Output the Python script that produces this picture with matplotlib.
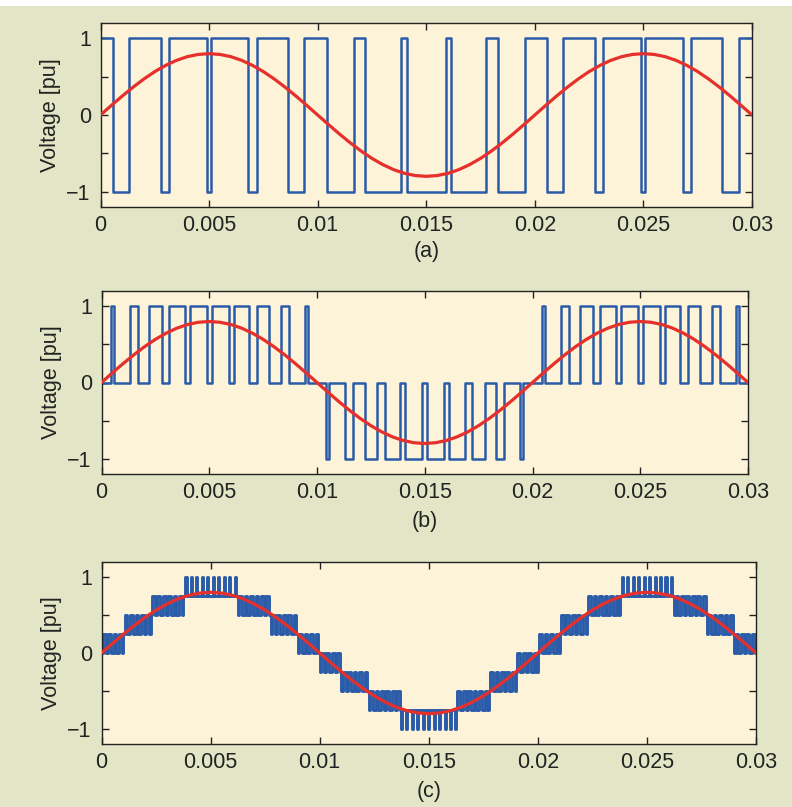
import numpy as np
import matplotlib.pyplot as plt

plt.rcParams['font.family'] = ['Liberation Sans', 'DejaVu Sans']

# time in ms
ref_t = [0.5 * i for i in range(61)]
ref_v = [0.0, 0.125, 0.247, 0.363, 0.470, 0.566, 0.647, 0.713, 0.761, 0.790, 0.800,
         0.790, 0.761, 0.713, 0.647, 0.566, 0.470, 0.363, 0.247, 0.125, 0.0,
         -0.125, -0.247, -0.363, -0.470, -0.566, -0.647, -0.713, -0.761, -0.790, -0.800,
         -0.790, -0.761, -0.713, -0.647, -0.566, -0.470, -0.363, -0.247, -0.125, 0.0,
         0.125, 0.247, 0.363, 0.470, 0.566, 0.647, 0.713, 0.761, 0.790, 0.800,
         0.790, 0.761, 0.713, 0.647, 0.566, 0.470, 0.363, 0.247, 0.125, 0.0]

# (a) bipolar: switching instants, starts at +1
a_edges = [0.57, 1.33, 2.79, 3.16, 4.89, 5.09, 6.80, 7.19, 8.63, 9.37,
           10.42, 11.68, 12.20, 13.84, 14.10, 15.91, 16.13, 17.76, 18.32, 19.57,
           20.58, 21.32, 22.79, 23.16, 24.88, 25.08, 26.82, 27.18, 28.64, 29.42]

# (b) unipolar: pulse width in each 1 ms slot and its level
b_width = [0.13, 0.36, 0.57, 0.71, 0.79, 0.79, 0.71, 0.57, 0.36, 0.13,
           0.13, 0.36, 0.57, 0.71, 0.79, 0.79, 0.71, 0.57, 0.36, 0.13,
           0.13, 0.36, 0.57, 0.71, 0.79, 0.79, 0.71, 0.57, 0.36, 0.13]
b_level = [1, 1, 1, 1, 1, 1, 1, 1, 1, 1,
           -1, -1, -1, -1, -1, -1, -1, -1, -1, -1,
           1, 1, 1, 1, 1, 1, 1, 1, 1, 1]

# (c) multilevel: bands where the output toggles between two levels
c_start = [0.0, 1.0, 2.15, 3.85, 6.15, 7.85, 9.0,
           10.0, 11.0, 12.15, 13.85, 16.15, 17.85, 19.0,
           20.0, 21.0, 22.15, 23.85, 26.15, 27.85, 29.0]
c_low = [0, 0.25, 0.5, 0.75, 0.5, 0.25, 0,
         -0.25, -0.5, -0.75, -1.0, -0.75, -0.5, -0.25,
         0, 0.25, 0.5, 0.75, 0.5, 0.25, 0]
c_duty = [0.5, 0.5, 0.5, 0.2, 0.5, 0.5, 0.5,
          0.5, 0.5, 0.5, 0.8, 0.5, 0.5, 0.5,
          0.5, 0.5, 0.5, 0.2, 0.5, 0.5, 0.5]
c_slot = 0.25

xt = [0, 0.005, 0.01, 0.015, 0.02, 0.025, 0.03]
xt_lab = ['0', '0.005', '0.01', '0.015', '0.02', '0.025', '0.03']
yt = [-1, -0.5, 0, 0.5, 1]
yt_lab = ['\u22121', '', '0', '', '1']
panel_lab = ['(a)', '(b)', '(c)']

blue = '#2a5ba8'
red = '#e5302c'
bg = '#e3e6c6'
axbg = '#fdf3d8'

W, H = 792, 807
# left, right, top, bottom in pixels
boxes = [(100.5, 752, 23, 207), (101.5, 748, 291, 474), (101.5, 756, 562, 744)]
lab_y = [252, 521, 792]
blue_lw = [1.8, 1.8, 2.1]

fig = plt.figure(figsize=(W / 100, H / 100), dpi=100, facecolor=bg)
fig.patches.append(plt.Rectangle((0, 1 - 6 / H), 1, 6 / H, transform=fig.transFigure,
                                 facecolor='white', edgecolor='none'))

# build step waveforms
ax_t = [0.0]
ax_v = [1]
lev = 1
for e in a_edges:
    lev = -lev
    ax_t.append(e)
    ax_v.append(lev)
ax_t.append(30.0)
ax_v.append(lev)

bx_t = [0.0]
bx_v = [0]
for k in range(30):
    c = k + 0.5
    bx_t += [c - b_width[k] / 2, c + b_width[k] / 2]
    bx_v += [b_level[k], 0]
bx_t.append(30.0)
bx_v.append(0)

cx_t = []
cx_v = []
c_end = c_start[1:] + [30.0]
for k in range(120):
    s = k * c_slot
    mid = s + c_slot / 2
    j = [i for i in range(len(c_start)) if c_start[i] <= mid < c_end[i]][0]
    lo = c_low[j]
    hi = lo + 0.25
    d = c_duty[j]
    cx_t += [s, s + (1 - d) / 2 * c_slot, s + (1 + d) / 2 * c_slot]
    cx_v += [lo, hi, lo]
cx_t.append(30.0)
cx_v.append(cx_v[-1])

waves = [(ax_t, ax_v), (bx_t, bx_v), (cx_t, cx_v)]

for i, (l, r, t, b) in enumerate(boxes):
    ax = fig.add_axes([l / W, 1 - b / H, (r - l) / W, (b - t) / H], facecolor=axbg)
    wt, wv = waves[i]
    ax.plot(np.array(wt) / 1000, wv, drawstyle='steps-post', color=blue,
            lw=blue_lw[i], zorder=2)
    ax.plot(np.array(ref_t) / 1000, ref_v, color=red, lw=2.3, zorder=3)
    ax.set_xlim(0, 0.03)
    ax.set_ylim(-1.2, 1.2)
    ax.set_xticks(xt)
    ax.set_xticklabels(xt_lab)
    ax.set_yticks(yt)
    ax.set_yticklabels(yt_lab)
    ax.tick_params(direction='in', top=True, right=True, length=5, width=1,
                   labelsize=15.5, colors='#222222')
    ax.tick_params(axis='x', pad=6)
    ax.tick_params(axis='y', pad=7)
    for sp in ax.spines.values():
        sp.set_color('#222222')
        sp.set_linewidth(1)
    ax.set_ylabel('Voltage [pu]', fontsize=15.5, color='#222222', labelpad=4)
    fig.text((l + r) / 2 / W, 1 - lab_y[i] / H, panel_lab[i], ha='center', va='center',
             fontsize=15.5, color='#222222')

fig.savefig('out.png', dpi=100, facecolor=fig.get_facecolor())
